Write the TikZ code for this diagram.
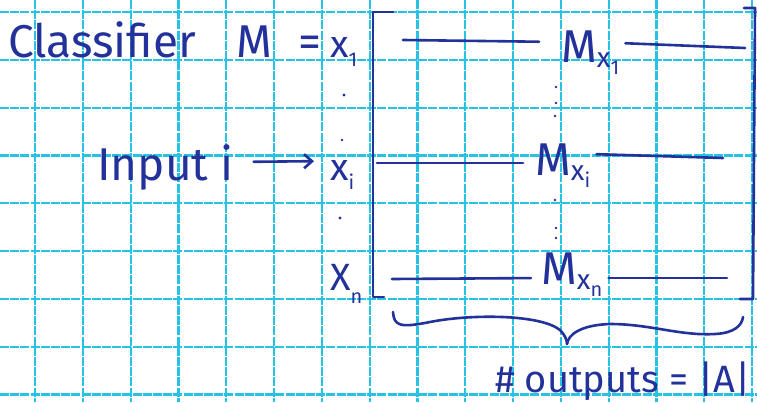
\documentclass[tikz,border=0pt]{standalone}
\usepackage{fontspec}
\setmainfont{Fira Sans}
\usetikzlibrary{arrows.meta}
\definecolor{gridc}{RGB}{40,195,228}
\definecolor{inkc}{RGB}{35,50,155}
\newcommand{\bigtxt}{\fontsize{46}{50}\selectfont}
\newcommand{\midtxt}{\fontsize{38}{42}\selectfont}
\newcommand{\subtxt}{\fontsize{28}{30}\selectfont}
\newcommand{\smalltxt}{\fontsize{20}{22}\selectfont}
\newcommand{\Mx}[1]{\bigtxt M\raisebox{-0.12em}{\subtxt x\raisebox{-0.25em}{\smalltxt #1}}}
\tikzset{
  gridline/.style={gridc, line width=2.2pt, dash pattern=on 9pt off 1.2pt},
  inkline/.style={inkc, line width=2.6pt, line cap=round, line join=round},
  lbl/.style={text=inkc, inner sep=0pt, anchor=base west},
  dotink/.style={fill=inkc, draw=none},
}
\begin{document}
\begin{tikzpicture}[x=1pt, y=-1pt]
\useasboundingbox[fill=white] (0,0) rectangle (757,402);
% grid
\foreach \gx in {35,82.8,130.6,178.4,226.2,274,321.8,369.6,417.4,465.2,513,560.8,608.6,656.4,704.2,752}
  \draw[gridline] (\gx,0) -- (\gx,402);
\foreach \gy in {12,59.8,107.6,155.4,203.2,251,298.8,346.6,394.4}
  \draw[gridline] (0,\gy) -- (757,\gy);

% title
\node[lbl] (cls) at (8,57) {\bigtxt Classifier};
\node[lbl] (mm) at (236,57) {\bigtxt M};
\node[lbl] (eq) at (298,57) {\bigtxt =};
\node[lbl] (x1) at (330,57) {\midtxt x\raisebox{-0.25em}{\smalltxt 1}};
\node[lbl] (xi) at (330,180) {\midtxt x\raisebox{-0.25em}{\smalltxt i}};
\node[lbl] (xn) at (330,290) {\midtxt X\raisebox{-0.35em}{\smalltxt n}};
\node[lbl] (inp) at (97,180) {\bigtxt Input\hspace{12pt}i};

% dots left column
\fill[dotink] (344,95) circle (1.6);
\fill[dotink] (342,140) circle (1.4);
\fill[dotink] (340,218) circle (1.6);

% input arrow
\draw[inkline, -{Straight Barb[length=8pt, width=14pt]}, shorten <=20pt, shorten >=16pt] (inp.east |- 0,162) -- (xi.west |- 0,161);

% brackets
\coordinate (lbt) at (393,12);
\coordinate (lbb) at (384,297);
\draw[inkline] (lbt) -- (373,12) -- (373,297) -- (lbb);
\coordinate (rbt) at (744,8);
\coordinate (rbb) at (740,299);
\draw[inkline] (rbt) -- (755,8) -- (753,299) -- (rbb);

% rows
\node[lbl] (mx1) at (561,62) {\Mx{1}};
\node[lbl] (mxi) at (535,175) {\Mx{i}};
\node[lbl] (mxn) at (541,284) {\Mx{n}};

\coordinate (r1a) at (403,40);
\coordinate (r1b) at (745,48);
\draw[inkline, shorten >=22pt] (r1a) -- (mx1.west |- 0,42);
\draw[inkline, shorten <=6pt] (mx1.east |- 0,43) -- (r1b);
\coordinate (ria) at (377,163);
\coordinate (rib) at (723,158);
\draw[inkline, shorten >=12pt] (ria) -- (mxi.west |- 0,163);
\draw[inkline, shorten <=6pt] (mxi.east |- 0,154) -- (rib);
\coordinate (rna) at (392,279);
\coordinate (rnb) at (727,278);
\draw[inkline, shorten >=10pt] (rna) -- (mxn.west |- 0,278);
\draw[inkline, shorten <=6pt] (mxn.east |- 0,278) -- (rnb);

% middle dots
\foreach \dx/\dy in {556/87,556/103,555/116,555/200,556/228,556/238}
  \fill[dotink] (\dx,\dy) circle (1.4);

% brace
\coordinate (bl) at (393,312);
\coordinate (br) at (743,317);
\coordinate (btip) at (567,344);
\draw[inkline] (bl) .. controls (394,326) and (400,328) .. (430,322)
  .. controls (470,314) and (540,314) .. (560,330)
  .. controls (565,335) and (567,340) .. (btip);
\draw[inkline] (btip) .. controls (568,335) and (580,325) .. (610,324)
  .. controls (650,324) and (680,336) .. (715,334)
  .. controls (735,333) and (742,325) .. (br);

% outputs
\node[lbl] (outs) at (495,392) {\midtxt \# outputs = |A|};
\end{tikzpicture}
\end{document}
